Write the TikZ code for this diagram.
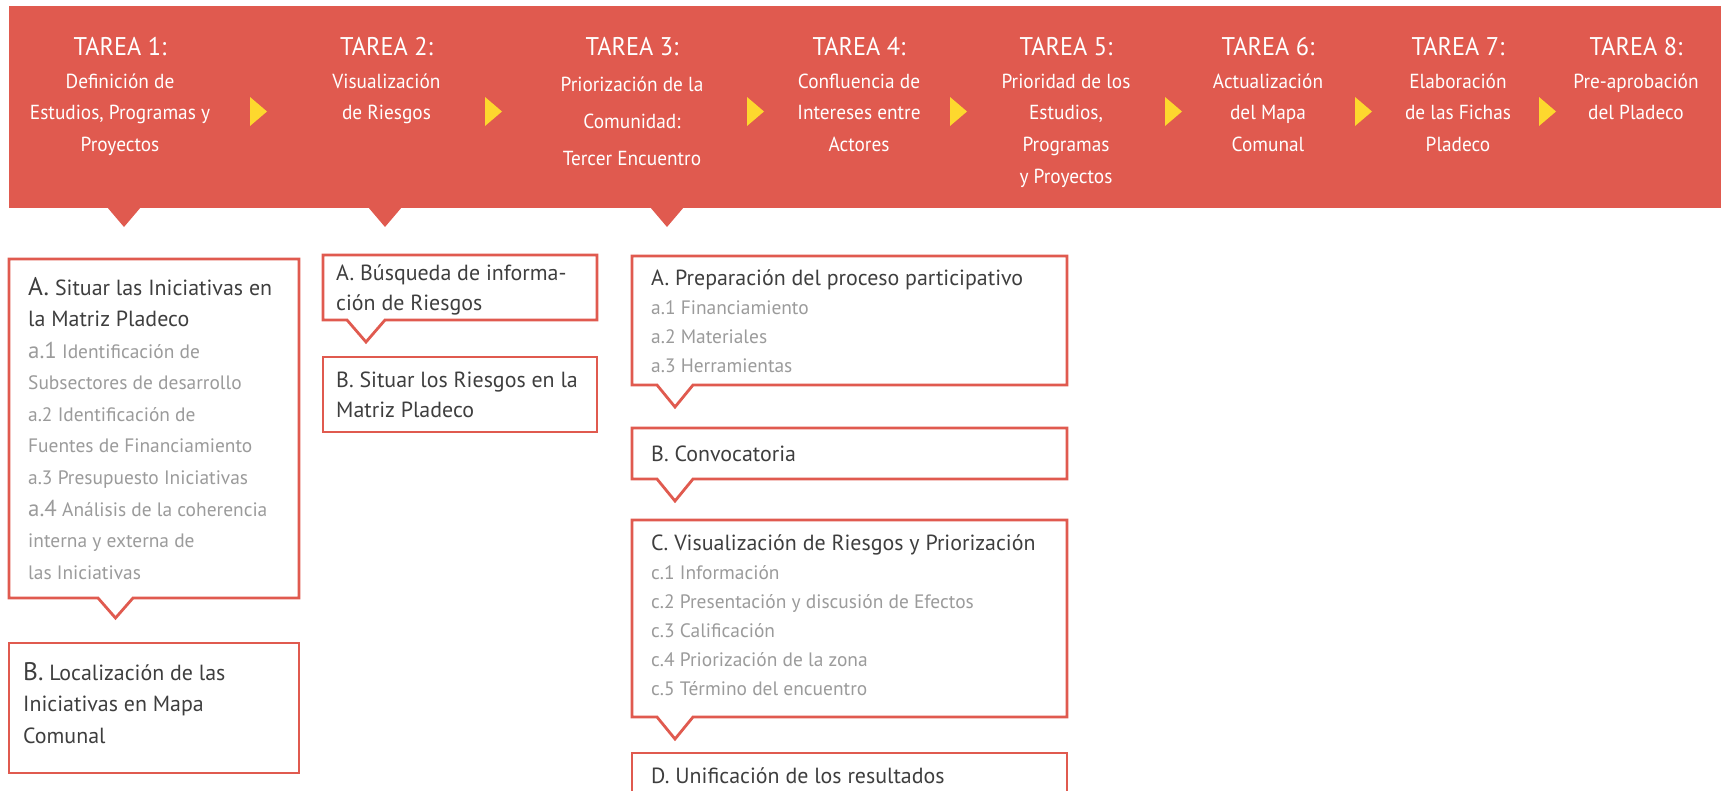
\documentclass[tikz,border=0pt]{standalone}
\usepackage{fontspec}
\setmainfont{PT Sans}
\newfontfamily\bannerfnt{PT Sans}[FakeStretch=0.95]
\newfontfamily\boxfnt{PT Sans}[FakeStretch=1.0]
\definecolor{bannerred}{RGB}{224,90,79}
\definecolor{arrowyellow}{RGB}{253,216,46}
\definecolor{titlegray}{RGB}{62,62,62}
\definecolor{subgray}{RGB}{155,155,155}
\tikzset{
  bannerbg/.style={fill=bannerred, draw=none},
  pointer/.style={fill=bannerred, draw=none},
  nextarrow/.style={fill=arrowyellow, draw=none},
  callout/.style={draw=bannerred, line width=2.8bp, fill=white, line join=miter},
  tareahead/.style={anchor=base, inner sep=0, text=white, font=\bannerfnt\fontsize{25.7}{30}\selectfont},
  tareadesc/.style={anchor=base, inner sep=0, text=white, font=\bannerfnt\fontsize{20.4}{32}\selectfont},
  tareadescwide/.style={tareadesc, font=\bannerfnt\fontsize{20.4}{37}\selectfont},
  boxtxt/.style={anchor=base west, inner sep=0, text=titlegray, font=\boxfnt},
}
\begin{document}
\begin{tikzpicture}[x=1bp,y=-1bp]
\useasboundingbox (0,0) rectangle (1721,791);
% banner
\fill[bannerbg] (9,6) rectangle (1721,208);
\fill[pointer] (107,207) -- (141,207) -- (124,227) -- cycle;
\fill[pointer] (368,207) -- (402,207) -- (385,227) -- cycle;
\fill[pointer] (650,207) -- (684,207) -- (667,227) -- cycle;
% yellow arrows
\foreach \ax in {250,485,747,950,1165,1355,1539}
  \fill[nextarrow] (\ax,97) -- (\ax+17,111.5) -- (\ax,126) -- cycle;
% banner texts
\node[tareahead] (h1) at (120,56) {TAREA 1:};
\node[tareadesc] (d1) at (120,88) {\parbox[t]{240bp}{\centering Definición de\\Estudios, Programas y\\Proyectos}};
\node[tareahead] (h2) at (386.5,56) {TAREA 2:};
\node[tareadesc] (d2) at (386.5,88) {\parbox[t]{240bp}{\centering Visualización\\de Riesgos}};
\node[tareahead] (h3) at (632,56) {TAREA 3:};
\node[tareadescwide] (d3) at (632,91.5) {\parbox[t]{240bp}{\centering Priorización de la\\Comunidad:\\Tercer Encuentro}};
\node[tareahead] (h4) at (859,56) {TAREA 4:};
\node[tareadesc] (d4) at (859,88) {\parbox[t]{240bp}{\centering Confluencia de\\Intereses entre\\Actores}};
\node[tareahead] (h5) at (1066,56) {TAREA 5:};
\node[tareadesc] (d5) at (1066,88) {\parbox[t]{240bp}{\centering Prioridad de los\\Estudios,\\Programas\\y Proyectos}};
\node[tareahead] (h6) at (1268,56) {TAREA 6:};
\node[tareadesc] (d6) at (1268,88) {\parbox[t]{240bp}{\centering Actualización\\del Mapa\\Comunal}};
\node[tareahead] (h7) at (1458,56) {TAREA 7:};
\node[tareadesc] (d7) at (1458,88) {\parbox[t]{240bp}{\centering Elaboración\\de las Fichas\\Pladeco}};
\node[tareahead] (h8) at (1636,56) {TAREA 8:};
\node[tareadesc] (d8) at (1636,88) {\parbox[t]{240bp}{\centering Pre-aprobación\\del Pladeco}};
% ---- column 1
\draw[callout] (9,259) -- (299,259) -- (299,598) -- (133,598) -- (115.5,618) -- (98,598) -- (9,598) -- cycle;
\node[boxtxt] (t1a) at (28,295) {\parbox[t]{400bp}{\raggedright\fontsize{22}{31.7}\selectfont
  {\fontsize{25.5}{31.7}\selectfont A.} Situar las Iniciativas en\\
  la Matriz Pladeco\\
  \color{subgray}\fontsize{19.5}{31.7}\selectfont
  {\fontsize{23}{31.7}\selectfont a.1} Identificación de\\
  Subsectores de desarrollo\\
  a.2 Identificación de\\
  Fuentes de Financiamiento\\
  a.3 Presupuesto Iniciativas\\
  {\fontsize{23}{31.7}\selectfont a.4} Análisis de la coherencia\\
  interna y externa de\\
  las Iniciativas}};
\draw[callout] (9,643) rectangle (299,773);
\node[boxtxt] (t1b) at (23,680) {\parbox[t]{400bp}{\raggedright\fontsize{22}{31.7}\selectfont
  {\fontsize{25.5}{31.7}\selectfont B.} Localización de las\\
  Iniciativas en Mapa\\
  Comunal}};
% ---- column 2
\draw[callout] (323,255) -- (597,255) -- (597,320) -- (385,320) -- (366,342) -- (347,320) -- (323,320) -- cycle;
\node[boxtxt] (t2a) at (336,280) {\parbox[t]{400bp}{\raggedright\fontsize{22}{31}\selectfont
  A. Búsqueda de informa-\\
  ción de Riesgos}};
\draw[callout] (323,357) rectangle (597,432);
\node[boxtxt] (t2b) at (336,387) {\parbox[t]{400bp}{\raggedright\fontsize{22}{31}\selectfont
  B. Situar los Riesgos en la\\
  Matriz Pladeco}};
% ---- column 3
\draw[callout] (632,256) -- (1067,256) -- (1067,385) -- (693,385) -- (675,407) -- (657,385) -- (632,385) -- cycle;
\node[boxtxt] (t3a) at (651,285) {\parbox[t]{420bp}{\raggedright\fontsize{22}{29.3}\selectfont
  A. Preparación del proceso participativo\\
  \color{subgray}\fontsize{19.5}{29.3}\selectfont
  a.1 Financiamiento\\
  a.2 Materiales\\
  a.3 Herramientas}};
\draw[callout] (632,428) -- (1067,428) -- (1067,479) -- (693,479) -- (675,501) -- (657,479) -- (632,479) -- cycle;
\node[boxtxt] (t3b) at (651,461) {\fontsize{22}{29.3}\selectfont B. Convocatoria};
\draw[callout] (632,520) -- (1067,520) -- (1067,717) -- (693,717) -- (675,739) -- (657,717) -- (632,717) -- cycle;
\node[boxtxt] (t3c) at (651,550) {\parbox[t]{420bp}{\raggedright\fontsize{22}{29.3}\selectfont
  C. Visualización de Riesgos y Priorización\\
  \color{subgray}\fontsize{19.5}{29.3}\selectfont
  c.1 Información\\
  c.2 Presentación y discusión de Efectos\\
  c.3 Calificación\\
  c.4 Priorización de la zona\\
  c.5 Término del encuentro}};
\draw[callout] (632,753) rectangle (1067,820);
\node[boxtxt] (t3d) at (651,783) {\fontsize{22}{29.3}\selectfont D. Unificación de los resultados};
\end{tikzpicture}
\end{document}
